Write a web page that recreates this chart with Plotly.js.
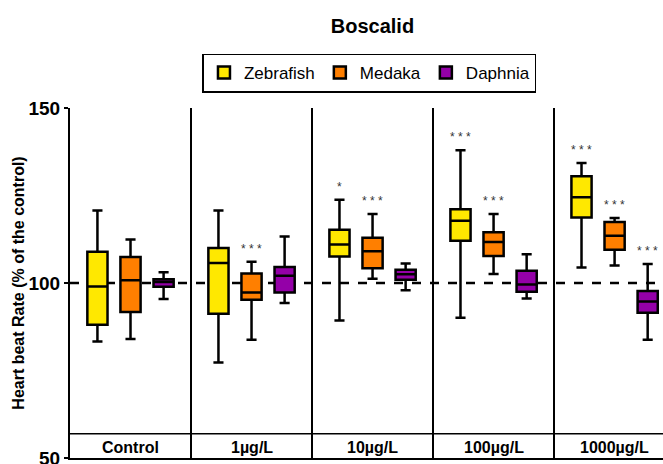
<!DOCTYPE html>
<html><head><meta charset="utf-8">
<script src="https://cdn.plot.ly/plotly-3.0.1.min.js"></script>
<style>html,body{margin:0;padding:0;background:#fff}</style>
</head><body><div id="chart" style="width:663px;height:464px"></div>
<script>
const categories = ['Control', '1µg/L', '10µg/L', '100µg/L', '1000µg/L'];

const zebraMin = [83.3, 77.3, 89.3, 90.1, 104.4];
const zebraQ1  = [88.1, 91.2, 107.6, 112.1, 118.7];
const zebraMed = [99.0, 105.7, 111.0, 117.8, 124.5];
const zebraQ3  = [108.9, 110.0, 115.2, 121.1, 130.5];
const zebraMax = [120.7, 120.7, 123.8, 137.9, 134.3];

const medakaMin = [84.0, 83.8, 101.2, 102.6, 105.0];
const medakaQ1  = [91.7, 95.2, 104.2, 107.7, 109.5];
const medakaMed = [100.8, 97.3, 109.1, 111.7, 113.5];
const medakaQ3  = [107.4, 102.7, 112.9, 114.5, 117.4];
const medakaMax = [112.4, 106.1, 119.7, 119.7, 118.6];

const daphniaMin = [95.4, 94.3, 97.9, 95.6, 83.8];
const daphniaQ1  = [98.9, 97.3, 100.9, 97.5, 91.5];
const daphniaMed = [100.3, 102.1, 102.5, 99.6, 94.7];
const daphniaQ3  = [101.1, 104.6, 103.8, 103.5, 97.7];
const daphniaMax = [103.1, 113.3, 105.6, 108.2, 105.4];

const zebraSig   = ['', '', '*', '***', '***'];
const medakaSig  = ['', '***', '***', '***', '***'];
const daphniaSig = ['', '', '', '', '***'];

const yTicks = [50, 100, 150];

const seriesNames = ['Zebrafish', 'Medaka', 'Daphnia'];
const seriesColors = ['#FFE800', '#FF7F00', '#9400A8'];

const series = [
  {min: zebraMin, q1: zebraQ1, med: zebraMed, q3: zebraQ3, max: zebraMax, sig: zebraSig},
  {min: medakaMin, q1: medakaQ1, med: medakaMed, q3: medakaQ3, max: medakaMax, sig: medakaSig},
  {min: daphniaMin, q1: daphniaQ1, med: daphniaMed, q3: daphniaQ3, max: daphniaMax, sig: daphniaSig}
];

const FONT = 'Liberation Sans, Arial, Helvetica, sans-serif';

const traces = series.map((s, i) => ({
  type: 'box',
  name: seriesNames[i],
  x: categories,
  q1: s.q1, median: s.med, q3: s.q3,
  lowerfence: s.min, upperfence: s.max,
  boxpoints: false,
  fillcolor: seriesColors[i],
  line: {color: '#000', width: 2.5},
  whiskerwidth: 0.5,
  hoverinfo: 'skip'
}));

const shifts = [-33, 0, 33];
const annotations = [];
series.forEach((s, i) => {
  s.sig.forEach((t, j) => {
    if (!t) return;
    annotations.push({
      x: categories[j], y: s.max[j], xref: 'x', yref: 'y',
      text: t.split('').join(' '),
      showarrow: false, xshift: shifts[i], yshift: 4, yanchor: 'bottom',
      font: {family: FONT, size: 12, color: '#333'}
    });
  });
});
// category labels inside the bottom band
categories.forEach(c => {
  annotations.push({
    x: c, xref: 'x', y: 0, yref: 'paper', yanchor: 'middle', yshift: 11,
    text: c, showarrow: false,
    font: {family: FONT, size: 16, weight: 'bold', color: '#000'}
  });
});

const layout = {
  width: 663, height: 464,
  margin: {l: 70, r: 0, t: 108, b: 6},
  paper_bgcolor: '#fff', plot_bgcolor: '#fff',
  font: {family: FONT, color: '#000'},
  title: {text: 'Boscalid', x: 0.51, xref: 'paper', y: 0.944, yanchor: 'middle',
          font: {family: FONT, size: 20, weight: 'bold', color: '#000'}},
  boxmode: 'group', boxgap: 0.18, boxgroupgap: 0.39,
  showlegend: true,
  legend: {orientation: 'h', x: 0.505, xanchor: 'center', y: 1.1, yanchor: 'middle',
           bordercolor: '#000', borderwidth: 1.5, font: {family: FONT, size: 17, color: '#000'},
           traceorder: 'normal'},
  xaxis: {
    type: 'category', range: [-0.5, 4.4],
    showline: true, linecolor: '#000', linewidth: 2,
    showgrid: true, gridcolor: '#000', gridwidth: 2, tickson: 'boundaries',
    ticks: '', showticklabels: false,
    zeroline: false, fixedrange: true
  },
  yaxis: {
    range: [50, 150], tickvals: yTicks,
    showline: true, linecolor: '#000', linewidth: 2,
    ticks: 'outside', ticklen: 4, tickwidth: 2, tickcolor: '#000',
    ticklabeloverflow: 'allow',
    showgrid: false, zeroline: false,
    tickfont: {family: FONT, size: 19, weight: 'bold', color: '#000'},
    title: {text: 'Heart beat Rate (% of the control)', standoff: 0,
            font: {family: FONT, size: 16, weight: 'bold', color: '#000'}}
  },
  shapes: [
    {type: 'line', xref: 'paper', x0: 0, x1: 1, yref: 'y', y0: 100, y1: 100,
     line: {color: '#000', width: 2.5, dash: 'dash'}, layer: 'below'},
    {type: 'line', xref: 'paper', x0: 0, x1: 1, yref: 'y', y0: 56.9, y1: 56.9,
     line: {color: '#000', width: 1.5}}
  ],
  annotations: annotations
};

Plotly.newPlot('chart', traces, layout, {displayModeBar: false, staticPlot: true});
</script>
</body></html>
